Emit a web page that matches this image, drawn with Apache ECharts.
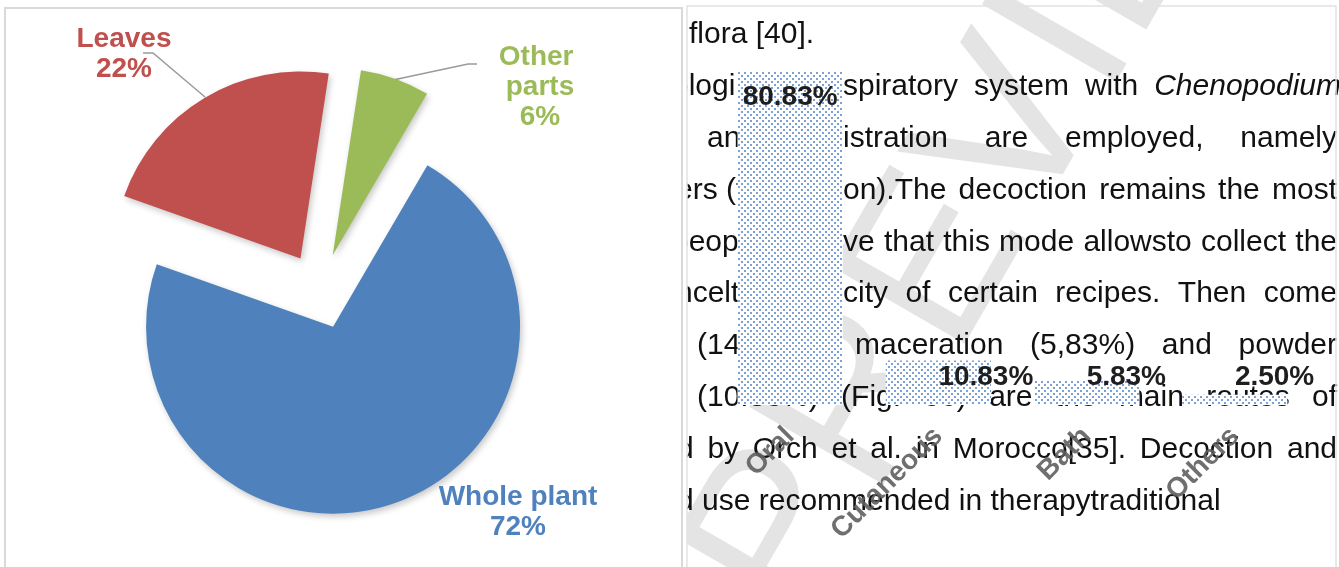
<!DOCTYPE html>
<html>
<head>
<meta charset="utf-8">
<title>Parts used and routes of administration</title>
<script src="https://cdn.jsdelivr.net/npm/echarts@6/dist/echarts.min.js"></script>
<style>
html, body {
	margin: 0;
	padding: 0;
	background: #fff;
}
#main {
	width: 1339px;
	height: 567px;
}
</style>
</head>
<body>
<div id="main"></div>
<script>
// pie: plant parts used
var partNames = ['Other parts', 'Whole plant', 'Leaves'];
var partValues = [6, 72, 22];
var partColors = ['#9BBB59', '#4F81BD', '#C0504D'];

// bars: routes of administration (%)
var routeNames = ['Oral', 'Cutaneous', 'Bath', 'Others'];
var routeValues = [80.83, 10.83, 5.83, 2.50];

// page text seen behind the bar chart: [baseline, [[text, x0, x1 if justified]]]
var bodyLines = [
	[45, [['flora [40].', 689]]],
	[97, [['ologi', 672], ['spiratory system with _Chenopodium', 843, 1341]]],
	[149, [['and', 707], ['istration are employed, namely', 843, 1337]]],
	[201, [['ers (t', 676], ['on).The decoction remains the most', 843, 1337]]],
	[253, [['people', 672], ['ve that this mode allowsto collect the', 843, 1337]]],
	[304, [['ncelt', 676], ['city of certain recipes. Then come', 843, 1337]]],
	[356, [['(14.17%)', 697], ['maceration (5,83%) and powder', 855, 1337]]],
	[408, [['(10.83%) (Fig. 06) are the main routes of', 697, 1337]]],
	[460, [['d by Orch et al. in Morocco[35]. Decoction and', 677, 1337]]],
	[512, [['d use recommended in therapytraditional', 677]]]
];

var FONT = '"Liberation Sans", Arial, sans-serif';
var byId = function(id) {
	return document.getElementById(id);
};

var measure = document.createElement('canvas').getContext('2d');
function fontFor(word) {
	return (word.charAt(0) === '_' ? 'italic ' : '') + '30px ' + FONT;
}
function wordWidth(word) {
	measure.font = fontFor(word);
	return measure.measureText(word.replace(/^_/, '')).width;
}

// lay out the body text word by word (justified where an end is given)
var textEls = [];
bodyLines.forEach(function(line) {
	var y = line[0] - 10;
	line[1].forEach(function(frag) {
		var words = frag[0].split(' ');
		var gap = wordWidth(' ');
		if (frag[2] != null && words.length > 1) {
			var sum = 0;
			words.forEach(function(w) { sum += wordWidth(w); });
			gap = (frag[2] - frag[1] - sum) / (words.length - 1);
		}
		var x = frag[1];
		words.forEach(function(w) {
			textEls.push({
				type: 'text',
				x: x,
				y: y,
				z: 1,
				silent: true,
				style: {
					text: w.replace(/^_/, ''),
					font: fontFor(w),
					fill: '#111',
					align: 'left',
					verticalAlign: 'middle'
				}
			});
			x += wordWidth(w) + gap;
		});
	});
});

// dotted fill of the bars
var dots = document.createElement('canvas');
dots.width = 6;
dots.height = 6;
var g = dots.getContext('2d');
g.fillStyle = '#fff';
g.fillRect(0, 0, 6, 6);
g.fillStyle = 'rgba(70,120,195,0.7)';
g.fillRect(0, 0, 2, 2);
g.fillRect(3, 3, 2, 2);

// pie geometry
var PIE_CENTER = [320, 291];
var PIE_START = 81.3;
var EXPLODE = 38;

// label centres / leader lines of the pie, px
var pieLabelSpots = [
	{ x: 540, y: 87, line: [[393, 80], [468, 64], [477, 64]] },
	{ x: 518, y: 512 },
	{ x: 124, y: 54, line: [[205, 97], [153, 53], [143, 53]] }
];

// one pie series per slice, each pushed out along its own mid angle
var total = partValues.reduce(function(a, b) { return a + b; }, 0);
var pieSeries = [];
var acc = 0;
partValues.forEach(function(v, k) {
	var span = 360 * v / total;
	var mid = (PIE_START - acc - span / 2) * Math.PI / 180;
	acc += span;
	pieSeries.push({
		type: 'pie',
		center: [PIE_CENTER[0] + Math.cos(mid) * EXPLODE, PIE_CENTER[1] - Math.sin(mid) * EXPLODE],
		radius: 187,
		startAngle: PIE_START,
		clockwise: true,
		avoidLabelOverlap: false,
		silent: true,
		z: 3,
		data: partNames.map(function(n, i) {
			var own = i === k;
			return {
				name: n,
				value: partValues[i],
				itemStyle: own ? {
					color: partColors[i],
					shadowBlur: 6,
					shadowOffsetX: 2,
					shadowOffsetY: 3,
					shadowColor: 'rgba(0,0,0,0.22)'
				} : { color: 'rgba(0,0,0,0)' },
				label: own ? {
					show: true,
					color: partColors[i],
					width: i === 0 ? 90 : 200,
					overflow: 'break'
				} : { show: false },
				labelLine: { show: own && !!pieLabelSpots[i].line }
			};
		}),
		label: {
			formatter: '{b}\n{c}%',
			fontSize: 28,
			fontWeight: 'bold',
			fontFamily: FONT,
			lineHeight: 30,
			align: 'center'
		},
		labelLine: {
			lineStyle: { color: '#9a9a9a', width: 1.5 }
		},
		labelLayout: function(p) {
			var s = pieLabelSpots[p.dataIndex];
			var o = { x: s.x, y: s.y, align: 'center', verticalAlign: 'middle' };
			if (s.line) {
				o.labelLinePoints = s.line;
			}
			return o;
		}
	});
});

var chart = echarts.init(byId('main'));
chart.setOption({
	animation: false,
	graphic: [{
		type: 'text',
		x: 1005,
		y: 150,
		rotation: 60 * Math.PI / 180,
		z: 0,
		silent: true,
		style: {
			text: 'PREVIEW',
			font: '225px ' + FONT,
			fill: 'rgba(190,190,190,0.42)',
			align: 'center',
			verticalAlign: 'middle'
		}
	}].concat(textEls).concat([{
		type: 'rect',
		z: 20,
		silent: true,
		shape: { x: 660, y: 0, width: 27, height: 567 },
		style: { fill: '#fff' }
	}, {
		type: 'rect',
		z: 21,
		silent: true,
		shape: { x: 5, y: 8, width: 677, height: 580 },
		style: { fill: null, stroke: '#d9d9d9', lineWidth: 2 }
	}, {
		type: 'rect',
		z: 21,
		silent: true,
		shape: { x: 687, y: 6, width: 649, height: 580 },
		style: { fill: null, stroke: '#e2e2e2', lineWidth: 1.5 }
	}]),
	grid: { left: 716, right: 30, top: 72, bottom: 162 },
	xAxis: {
		type: 'category',
		data: routeNames,
		z: 6,
		axisLine: { show: false },
		axisTick: { show: false },
		axisLabel: {
			interval: 0,
			rotate: 45,
			margin: 27,
			fontSize: 28,
			fontWeight: 'bold',
			fontFamily: FONT,
			color: 'rgba(95,95,95,0.9)'
		}
	},
	yAxis: {
		type: 'value',
		min: 0,
		max: 'dataMax',
		show: false,
		splitLine: { show: false }
	},
	series: [{
		type: 'bar',
		data: routeValues,
		barWidth: '71%',
		silent: true,
		itemStyle: { color: { image: dots, repeat: 'repeat' } },
		label: {
			show: true,
			position: 'insideTop',
			distance: 11,
			fontSize: 28,
			fontWeight: 'bold',
			fontFamily: FONT,
			color: '#1e1e1e',
			formatter: function(p) {
				return p.value.toFixed(2) + '%';
			}
		},
		labelLayout: function(p) {
			if (p.dataIndex > 0) {
				return { y: 377, verticalAlign: 'middle' };
			}
		}
	}].concat(pieSeries)
});
</script>
</body>
</html>
